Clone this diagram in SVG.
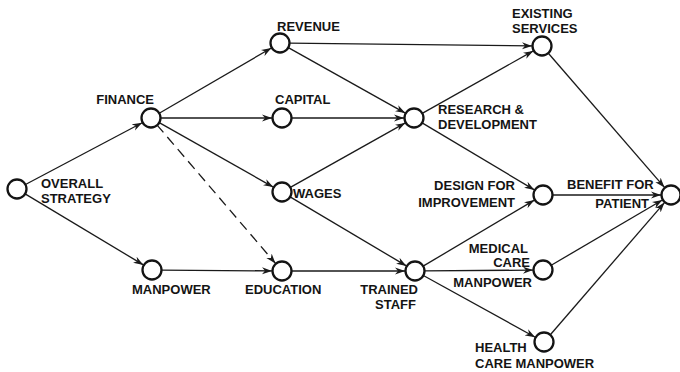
<svg xmlns="http://www.w3.org/2000/svg" width="680" height="372" viewBox="0 0 680 372">
<defs>
<style>
.n{fill:#fff;stroke:#141414;stroke-width:2.3}
.e{stroke:#1a1a1a;stroke-width:1.3;fill:none;marker-end:url(#ah)}
.d{stroke-dasharray:10 6}
text{font-family:"Liberation Sans",Arial,sans-serif;font-weight:bold;font-size:13px;fill:#141414}
.r{text-anchor:end}
</style>
<marker id="ah" markerUnits="userSpaceOnUse" markerWidth="11" markerHeight="8" refX="10" refY="4" orient="auto">
<path d="M0,0.5 L10,4 L0,7.5 L3,4 Z" fill="#1a1a1a"/>
</marker>
</defs>
<rect width="680" height="372" fill="#fff"/>
<g id="connectors">
<line class="e" x1="25" y1="184.8" x2="142.2" y2="122.7"/>
<line class="e" x1="24.7" y1="193.6" x2="143.4" y2="264.9"/>
<line class="e" x1="158.8" y1="113.5" x2="271.4" y2="48"/>
<line class="e" x1="160" y1="118" x2="272" y2="118"/>
<line class="e" x1="158.8" y1="122.4" x2="273.3" y2="187.1"/>
<line class="e d" x1="156.9" y1="124.8" x2="275.5" y2="263.4"/>
<line class="e" x1="161" y1="270.1" x2="272" y2="270.9"/>
<line class="e" x1="289" y1="43.1" x2="532" y2="45.9"/>
<line class="e" x1="287.9" y1="47.4" x2="405.3" y2="113.1"/>
<line class="e" x1="291" y1="118" x2="404" y2="118"/>
<line class="e" x1="289.9" y1="187.6" x2="405.3" y2="122.9"/>
<line class="e" x1="289.7" y1="196.6" x2="406.4" y2="265.9"/>
<line class="e" x1="291" y1="271" x2="405" y2="271"/>
<line class="e" x1="421.8" y1="113.6" x2="533.3" y2="50.9"/>
<line class="e" x1="421.7" y1="122.6" x2="534.4" y2="189.9"/>
<line class="e" x1="422.7" y1="266.4" x2="534.4" y2="200.1"/>
<line class="e" x1="424" y1="270.9" x2="533" y2="270.1"/>
<line class="e" x1="422.9" y1="275.3" x2="535.2" y2="337.2"/>
<line class="e" x1="547.9" y1="52.8" x2="664.5" y2="187.4"/>
<line class="e" x1="552" y1="195" x2="661" y2="195"/>
<line class="e" x1="550.8" y1="265.5" x2="662.4" y2="200"/>
<line class="e" x1="549.9" y1="335.2" x2="664.5" y2="202.6"/>
</g>
<g id="overall-strategy"><circle class="n" cx="17" cy="189" r="9.5"/><text x="41" y="188">OVERALL</text><text x="41" y="203">STRATEGY</text></g>
<g id="finance"><circle class="n" cx="151" cy="118" r="9.5"/><text class="r" x="154" y="104">FINANCE</text></g>
<g id="manpower"><circle class="n" cx="152" cy="270" r="9.5"/><text x="132" y="294">MANPOWER</text></g>
<g id="revenue"><circle class="n" cx="280" cy="43" r="9.5"/><text x="277" y="31">REVENUE</text></g>
<g id="capital"><circle class="n" cx="282" cy="118" r="9.5"/><text x="275" y="104">CAPITAL</text></g>
<g id="wages"><circle class="n" cx="282" cy="192" r="9.5"/><text x="293" y="198">WAGES</text></g>
<g id="education"><circle class="n" cx="282" cy="271" r="9.5"/><text x="245" y="294">EDUCATION</text></g>
<g id="research-development"><circle class="n" cx="414" cy="118" r="9.5"/><text x="438" y="114">RESEARCH &amp;</text><text x="438" y="129">DEVELOPMENT</text></g>
<g id="existing-services"><circle class="n" cx="542" cy="46" r="9.5"/><text x="512" y="18">EXISTING</text><text x="512" y="33">SERVICES</text></g>
<g id="design-improvement"><circle class="n" cx="543" cy="195" r="9.5"/><text class="r" x="515" y="190">DESIGN FOR</text><text class="r" x="515" y="207">IMPROVEMENT</text></g>
<g id="trained-staff"><circle class="n" cx="415" cy="271" r="9.5"/><text class="r" x="418" y="294">TRAINED</text><text class="r" x="416" y="309">STAFF</text></g>
<g id="medical-care-manpower"><circle class="n" cx="543" cy="270" r="9.5"/><text class="r" x="528" y="253">MEDICAL</text><text class="r" x="530" y="267">CARE</text><text class="r" x="532" y="287">MANPOWER</text></g>
<g id="health-care-manpower"><circle class="n" cx="544" cy="342" r="9.5"/><text x="475" y="352">HEALTH</text><text x="475" y="368">CARE MANPOWER</text></g>
<g id="benefit-patient"><circle class="n" cx="671" cy="195" r="9.5"/><text x="567" y="189">BENEFIT FOR</text><text class="r" x="649" y="208">PATIENT</text></g>
</svg>
